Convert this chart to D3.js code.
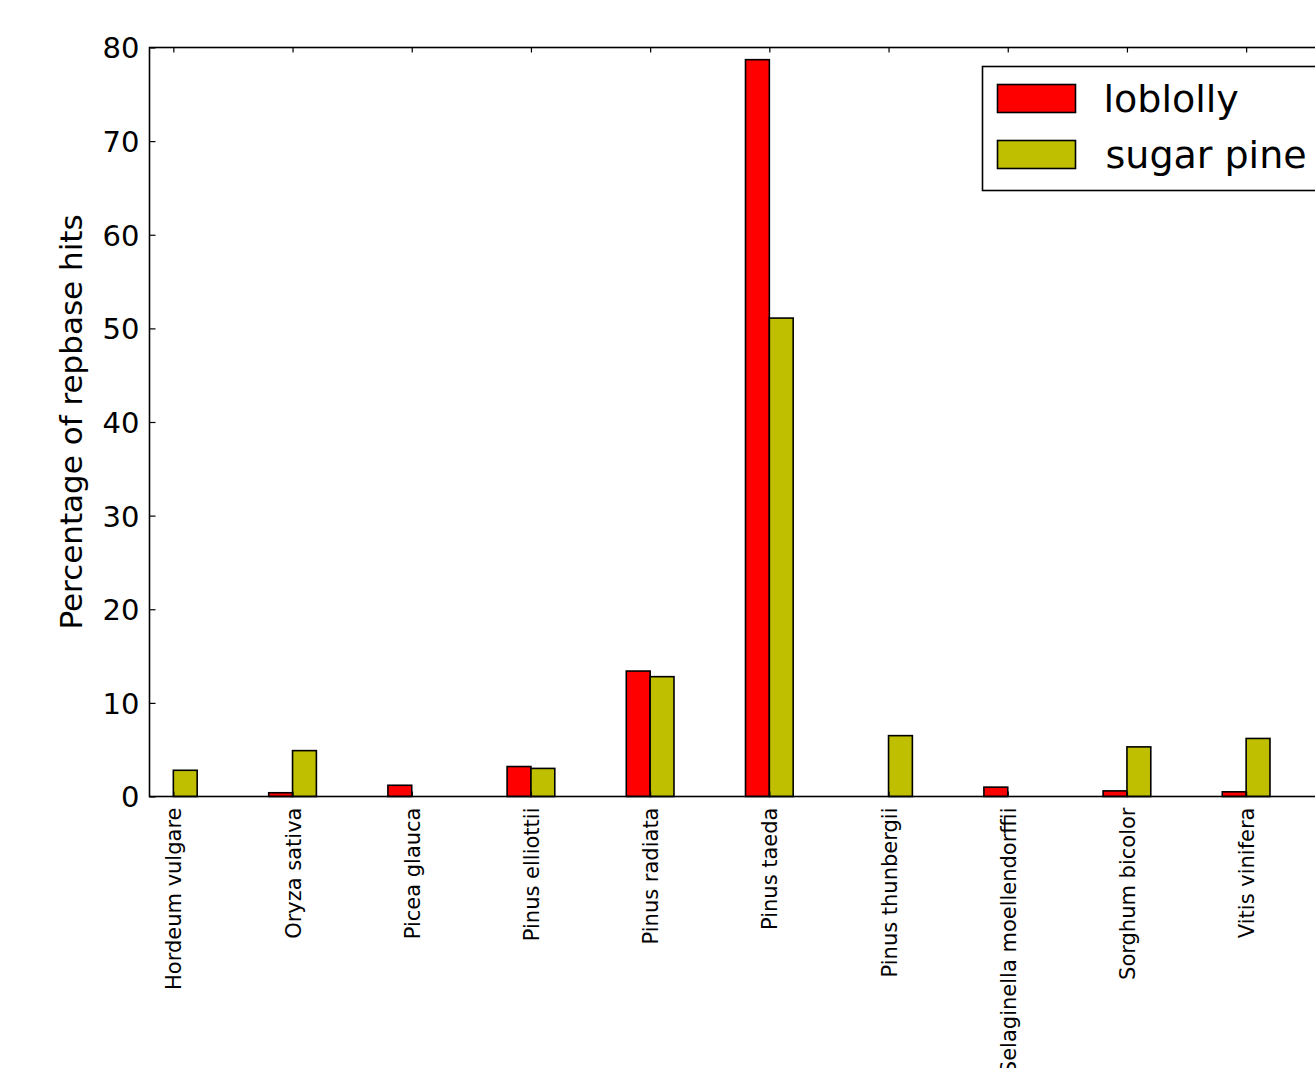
<!DOCTYPE html>
<html>
<head>
<meta charset="utf-8">
<script src="https://cdn.jsdelivr.net/npm/d3@7"></script>
<style>
  html, body { margin: 0; padding: 0; background: #fff; }
  svg { display: block; }
  text { font-family: "DejaVu Sans", sans-serif; fill: #000; }
</style>
</head>
<body>
<svg id="chart" width="1315" height="1068"></svg>
<script>
// Species queried against Repbase
const categories = [
  "Hordeum vulgare", "Oryza sativa", "Picea glauca", "Pinus elliottii",
  "Pinus radiata", "Pinus taeda", "Pinus thunbergii",
  "Selaginella moellendorffii", "Sorghum bicolor", "Vitis vinifera"
];
// Percentage of repbase hits per assembly
const loblolly  = [0.0, 0.4, 1.2, 3.2, 13.4, 78.7, 0.0, 1.0, 0.6, 0.5];
const sugarPine = [2.8, 4.9, 0.0, 3.0, 12.8, 51.1, 6.5, 0.0, 5.3, 6.2];
const seriesNames = ["loblolly", "sugar pine"];
const yTicks = [0, 10, 20, 30, 40, 50, 60, 70, 80];

const svg = d3.select("#chart");
const margin = { left: 149.5, top: 47.5, bottom: 796.5 };
const unit = 119.2;               // pixels per category slot
const right = margin.left + 10.2 * unit;

const x = d3.scaleLinear().domain([-0.2, 10]).range([margin.left, right]);
const y = d3.scaleLinear().domain([0, 80]).range([margin.bottom, margin.top]);
const barW = 0.2;
const colors = ["#ff0000", "#bfbf00"];

// bars
const series = [loblolly, sugarPine];
series.forEach((vals, s) => {
  svg.append("g").selectAll("rect")
    .data(vals.map((v, i) => ({ v, i })).filter(d => d.v > 0))
    .join("rect")
    .attr("x", d => x(d.i - barW + s * barW))
    .attr("width", d => x(barW) - x(0))
    .attr("y", d => y(d.v))
    .attr("height", d => y(0) - y(d.v))
    .attr("fill", colors[s])
    .attr("stroke", "#000")
    .attr("stroke-width", 1.6);
});

// frame
svg.append("rect")
  .attr("x", margin.left).attr("y", margin.top)
  .attr("width", right - margin.left).attr("height", margin.bottom - margin.top)
  .attr("fill", "none").attr("stroke", "#000").attr("stroke-width", 1.6);

// y axis (ticks point inward)
const yAxis = d3.axisLeft(y).tickValues(yTicks).tickSize(-6).tickPadding(10).tickFormat(d3.format("d"));
const gy = svg.append("g").attr("transform", `translate(${margin.left},0)`).call(yAxis);
gy.select(".domain").remove();
gy.selectAll("line").attr("stroke-width", 1.2);
gy.selectAll("text").style("font-size", "29px").attr("dy", "0.36em");

// x axis at the bottom, rotated labels
const idx = d3.range(categories.length);
const xAxis = d3.axisBottom(x).tickValues(idx).tickSize(-5).tickPadding(10)
  .tickFormat(i => categories[i]);
const gx = svg.append("g").attr("transform", `translate(0,${margin.bottom})`).call(xAxis);
gx.select(".domain").remove();
gx.selectAll("line").attr("stroke-width", 1.2);
gx.selectAll("text")
  .style("font-size", "21px")
  .attr("text-anchor", "end")
  .attr("transform", "rotate(-90)")
  .attr("x", -11)
  .attr("y", 0)
  .attr("dy", "0.36em");

// matching inward ticks on the top spine
const gt = svg.append("g").attr("transform", `translate(0,${margin.top})`)
  .call(d3.axisTop(x).tickValues(idx).tickSize(-5).tickFormat(""));
gt.select(".domain").remove();
gt.selectAll("line").attr("stroke-width", 1.2);

// y axis title
svg.append("text")
  .attr("transform", `translate(82,${(margin.top + margin.bottom) / 2}) rotate(-90)`)
  .attr("text-anchor", "middle")
  .style("font-size", "31px")
  .text("Percentage of repbase hits");

// legend
const lg = svg.append("g").attr("transform", "translate(982.5,66.5)");
lg.append("rect").attr("width", 420).attr("height", 124)
  .attr("fill", "#fff").attr("stroke", "#000").attr("stroke-width", 1.6);
seriesNames.forEach((name, s) => {
  const yy = 18 + s * 56;
  lg.append("rect").attr("x", 15).attr("y", yy).attr("width", 78).attr("height", 28)
    .attr("fill", colors[s]).attr("stroke", "#000").attr("stroke-width", 1.6);
  lg.append("text").attr("x", 121 + s * 2).attr("y", yy + 14).attr("dy", "0.36em")
    .style("font-size", "38px").text(name);
});
</script>
</body>
</html>
